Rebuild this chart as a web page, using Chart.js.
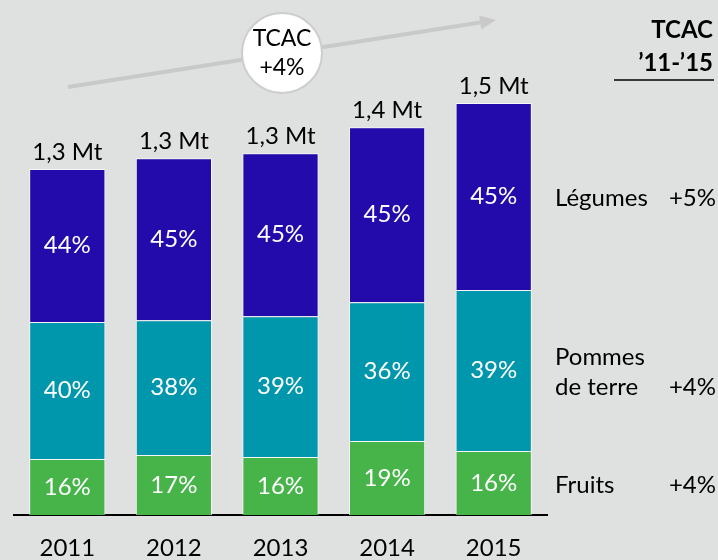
<!DOCTYPE html>
<html>
<head>
<meta charset="utf-8">
<script src="https://cdn.jsdelivr.net/npm/chart.js@4"></script>
<style>
  html, body { margin: 0; padding: 0; background: #dfe0e0; }
  canvas { display: block; }
</style>
</head>
<body>
<canvas id="chart" width="718" height="560"></canvas>
<script>
// data (Mt)
const years = ['2011', '2012', '2013', '2014', '2015'];
const totalLabels = ['1,3 Mt', '1,3 Mt', '1,3 Mt', '1,4 Mt', '1,5 Mt'];
const fruits = [0.204, 0.218, 0.211, 0.269, 0.233];
const pommes = [0.499, 0.491, 0.513, 0.506, 0.586];
const legumes = [0.557, 0.590, 0.593, 0.637, 0.681];
const fruitsShare = ['16%', '17%', '16%', '19%', '16%'];
const pommesShare = ['40%', '38%', '39%', '36%', '39%'];
const legumesShare = ['44%', '45%', '45%', '45%', '45%'];
const seriesNames = [['Fruits'], ['Pommes', 'de terre'], ['Légumes']];
const tcacValues = ['+4%', '+4%', '+5%'];

const FONT = 'Lato, "Open Sans", sans-serif';

const overlay = {
    id: 'overlay',
    afterDatasetsDraw(chart) {
        const ctx = chart.ctx;
        ctx.save();

        // growth arrow
        const x0 = 68, y0 = 87, x1 = 496, y1 = 20;
        const len = Math.hypot(x1 - x0, y1 - y0);
        const ux = (x1 - x0) / len, uy = (y1 - y0) / len;
        const head = 16, half = 7;
        ctx.strokeStyle = '#c9c9c9';
        ctx.fillStyle = '#c9c9c9';
        ctx.lineWidth = 4;
        ctx.beginPath();
        ctx.moveTo(x0, y0);
        ctx.lineTo(x1 - ux * head, y1 - uy * head);
        ctx.stroke();
        ctx.beginPath();
        ctx.moveTo(x1, y1);
        ctx.lineTo(x1 - ux * head - uy * half, y1 - uy * head + ux * half);
        ctx.lineTo(x1 - ux * head + uy * half, y1 - uy * head - ux * half);
        ctx.closePath();
        ctx.fill();

        // TCAC bubble
        ctx.beginPath();
        ctx.arc(282, 53, 40, 0, Math.PI * 2);
        ctx.fillStyle = '#ffffff';
        ctx.fill();
        ctx.lineWidth = 2;
        ctx.strokeStyle = '#cdcdcd';
        ctx.stroke();
        ctx.fillStyle = '#000';
        ctx.font = '23px ' + FONT;
        ctx.textAlign = 'center';
        ctx.textBaseline = 'middle';
        ctx.fillText('TCAC', 282, 39);
        ctx.fillText('+4%', 282, 68);

        // segment shares
        const shares = [fruitsShare, pommesShare, legumesShare];
        ctx.font = '24px ' + FONT;
        ctx.fillStyle = '#ffffff';
        shares.forEach((arr, di) => {
            chart.getDatasetMeta(di).data.forEach((bar, i) => {
                ctx.fillText(arr[i], bar.x, (bar.y + bar.base) / 2);
            });
        });

        // totals above bars
        ctx.fillStyle = '#000';
        ctx.textBaseline = 'bottom';
        const topMeta = chart.getDatasetMeta(2);
        topMeta.data.forEach((bar, i) => {
            ctx.fillText(totalLabels[i], bar.x, bar.y - 5);
        });

        // right side legend with TCAC
        ctx.textBaseline = 'middle';
        seriesNames.forEach((lines, di) => {
            const meta = chart.getDatasetMeta(di);
            const bar = meta.data[meta.data.length - 1];
            const cy = (bar.y + bar.base) / 2;
            const start = cy - (lines.length - 1) * 15 + 2;
            ctx.textAlign = 'left';
            lines.forEach((t, k) => ctx.fillText(t, 555, start + k * 30));
            ctx.textAlign = 'right';
            ctx.fillText(tcacValues[di], 716, start + (lines.length - 1) * 30);
        });

        // header
        ctx.font = 'bold 24px ' + FONT;
        ctx.textAlign = 'right';
        ctx.fillText('TCAC', 713, 30);
        ctx.fillText('\u201911-\u201915', 713, 63);
        ctx.lineWidth = 1.5;
        ctx.strokeStyle = '#000';
        ctx.beginPath();
        ctx.moveTo(614, 80);
        ctx.lineTo(714, 80);
        ctx.stroke();

        ctx.restore();
    }
};

const barStyle = {
    borderColor: 'rgba(255, 255, 255, 0.75)',
    borderWidth: 1,
    barPercentage: 0.715,
    categoryPercentage: 1
};

new Chart(document.getElementById('chart').getContext('2d'), {
    type: 'bar',
    data: {
        labels: years,
        datasets: [
            { label: 'Fruits', data: fruits, backgroundColor: '#47b44a', ...barStyle },
            { label: 'Pommes de terre', data: pommes, backgroundColor: '#0096ac', ...barStyle },
            { label: 'Légumes', data: legumes, backgroundColor: '#220aab', ...barStyle }
        ]
    },
    options: {
        responsive: false,
        animation: false,
        layout: { padding: { left: 14, right: 171, top: 0, bottom: 0 } },
        plugins: {
            legend: { display: false },
            tooltip: { enabled: false }
        },
        scales: {
            x: {
                stacked: true,
                grid: { display: false, drawTicks: false },
                border: { display: true, color: '#000', width: 2 },
                ticks: { color: '#000', font: { family: FONT, size: 24 }, padding: 19 },
                afterFit(scale) { scale.height = 45; }
            },
            y: {
                stacked: true,
                display: false,
                min: 0,
                max: 1.875
            }
        }
    },
    plugins: [overlay]
});
</script>
</body>
</html>
